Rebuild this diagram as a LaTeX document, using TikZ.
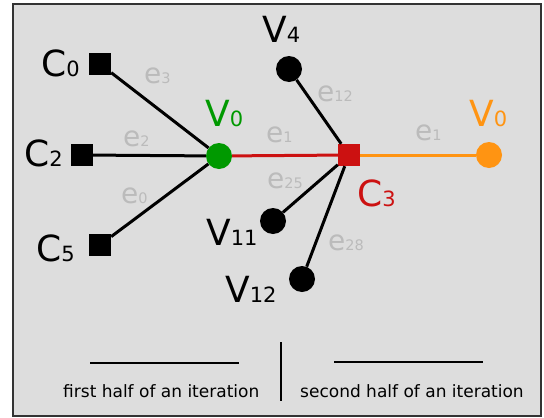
\documentclass[tikz,border=0pt]{standalone}
\usepackage{fontspec}
\setmainfont{DejaVu Sans}
\definecolor{bgcol}{HTML}{DDDDDD}
\definecolor{framecol}{HTML}{333333}
\definecolor{edgecol}{HTML}{BBBBBB}
\definecolor{vgreen}{HTML}{009900}
\definecolor{cred}{HTML}{CC1111}
\definecolor{vorange}{HTML}{FF9412}
\newcommand{\subbig}[1]{{\fontsize{21}{21}\selectfont#1}}
\newcommand{\subsmall}[1]{{\fontsize{14.5}{14.5}\selectfont#1}}
\tikzset{
	vert/.style={circle,fill=#1,inner sep=0pt,minimum size=26pt},
	cons/.style={rectangle,fill=#1,inner sep=0pt,minimum size=22pt},
	bigname/.style={font=\fontsize{36}{36}\selectfont,inner sep=0pt,anchor=base west},
	ename/.style={font=\fontsize{28}{28}\selectfont,text=edgecol,inner sep=0pt,anchor=base west},
	link/.style={line width=3pt},
	caption/.style={font=\fontsize{17}{17}\selectfont,inner sep=0pt,anchor=base west}
}

\begin{document}
\begin{tikzpicture}[x=1pt,y=-1pt]
\useasboundingbox (0,0) rectangle (544,418);
\filldraw[fill=bgcol,draw=framecol,line width=1.3pt] (13,4) rectangle (541,416);

% nodes
\node[cons=black] (c0) at (100,64) {};
\node[cons=black] (c2) at (82,155) {};
\node[cons=black] (c5) at (100,245) {};
\node[vert=vgreen] (v0) at (219,156) {};
\node[cons=cred] (c3) at (349,155) {};
\node[vert=vorange] (v0b) at (489,155) {};
\node[vert=black] (v4) at (289,69) {};
\node[vert=black] (v11) at (273,221) {};
\node[vert=black] (v12) at (302,279) {};

% connectors
\draw[link] (c0) -- (v0);
\draw[link] (c2) -- (v0);
\draw[link] (c5) -- (v0);
\draw[link,cred] (v0) -- (c3);
\draw[link,vorange] (c3) -- (v0b);
\draw[link] (c3) -- (v4);
\draw[link] (c3) -- (v11);
\draw[link] (c3) -- (v12);

% names
\node[bigname] (lc0) at (41,76) {C\subbig{0}};
\node[bigname] (lc2) at (24,166) {C\subbig{2}};
\node[bigname] (lc5) at (36,261) {C\subbig{5}};
\node[bigname,text=vgreen] (lv0) at (205,126) {V\subbig{0}};
\node[bigname,text=cred] (lc3) at (357,206) {C\subbig{3}};
\node[bigname,text=vorange] (lv0b) at (469,126) {V\subbig{0}};
\node[bigname] (lv4) at (262,42) {V\subbig{4}};
\node[bigname] (lv11) at (206,245) {V\subbig{11}};
\node[bigname] (lv12) at (225,302) {V\subbig{12}};

% edge ids
\node[ename] (e3) at (144,83) {e\subsmall{3}};
\node[ename] (e2) at (123,146) {e\subsmall{2}};
\node[ename] (e0) at (121,203) {e\subsmall{0}};
\node[ename] (e1a) at (266,142) {e\subsmall{1}};
\node[ename] (e25) at (267,188) {e\subsmall{25}};
\node[ename] (e12) at (317,101) {e\subsmall{12}};
\node[ename] (e28) at (328,250) {e\subsmall{28}};
\node[ename] (e1b) at (415,140) {e\subsmall{1}};

% legend
\draw[line width=2.6pt] (90,363) -- (239,363);
\draw[line width=2.6pt] (334,362) -- (483,362);
\draw[line width=2.6pt] (281,342) -- (281,401);
\node[caption] (first) at (63,397) {first half of an iteration};
\node[caption] (second) at (300,397) {second half of an iteration};
\end{tikzpicture}
\end{document}
